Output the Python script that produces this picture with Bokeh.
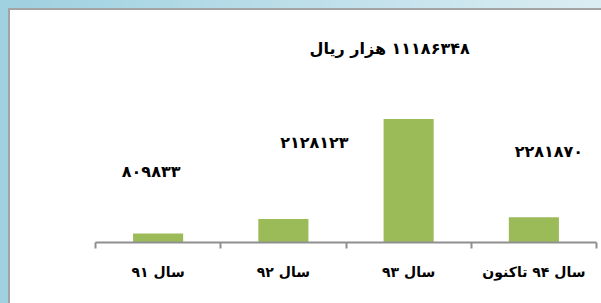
from bokeh.plotting import figure
from bokeh.models import ColumnDataSource, Range1d, FixedTicker, LinearAxis
from bokeh.embed import file_html
from bokeh.resources import INLINE
from bokeh.core.properties import value

# ---- data ----
categories = ["سال ۹۱", "سال ۹۲", "سال ۹۳", "سال ۹۴ تاکنون"]
amounts = [809833, 2128123, 11186348, 2281870]
label_suffix = ["", "", " هزار ریال", ""]

# ---- label styling (screen offsets, px) ----
label_dx = [-7, 31, -19, 15]
label_dy = [-62, -76, -70, -66]

persian = str.maketrans("0123456789", "۰۱۲۳۴۵۶۷۸۹")
labels = ["\u200f" + str(a).translate(persian) + s for a, s in zip(amounts, label_suffix)]
xs = list(range(len(categories)))

src = ColumnDataSource(dict(x=xs, top=amounts, label=labels, dx=label_dx, dy=label_dy))

p = figure(width=591, height=293,
           x_range=Range1d(-0.5, len(categories) - 0.5),
           y_range=Range1d(0, 20.1e6),
           output_backend="svg", toolbar_location=None,
           x_axis_location=None, y_axis_location=None,
           min_border_left=85, min_border_right=5,
           min_border_top=10, min_border_bottom=61)
p.grid.visible = False
p.outline_line_color = None
p.background_fill_color = None
p.border_fill_color = None

p.vbar(x="x", top="top", width=0.4, source=src, fill_color="#9bbb59", line_color=None)

p.text(x="x", y="top", text="label", x_offset="dx", y_offset="dy", source=src,
       text_align="center", text_baseline="alphabetic",
       text_font=value("DejaVu Sans"), text_font_style="bold",
       text_font_size="16px", text_color="black")

xaxis = LinearAxis(
    ticker=FixedTicker(ticks=xs, minor_ticks=[i - 0.5 for i in range(len(categories) + 1)]),
    major_label_overrides={i: c for i, c in zip(xs, categories)},
    axis_line_color="#8f8f8f", axis_line_width=2,
    major_tick_line_color=None, major_tick_out=0, major_tick_in=0,
    minor_tick_line_color="#8f8f8f", minor_tick_line_width=2,
    minor_tick_out=6, minor_tick_in=0,
    major_label_text_font="DejaVu Sans", major_label_text_font_style="bold",
    major_label_text_font_size="14px", major_label_text_color="black",
    major_label_standoff=15,
)
p.add_layout(xaxis, "below")

html = file_html(p, INLINE)
css = ("<style>html,body{overflow:hidden;}"
       "body{margin:10px 0 0 10px;min-height:303px;background:"
       "linear-gradient(#ffffff,#ffffff) 10px 10px/100% 100% no-repeat,"
       "linear-gradient(#a3a3a3,#a3a3a3) 8px 8px/100% 100% no-repeat,"
       "linear-gradient(to right,#9ed0e0,#dbedf3);}</style>")
html = html.replace("</head>", css + "</head>", 1)
open("out.html", "w").write(html)
